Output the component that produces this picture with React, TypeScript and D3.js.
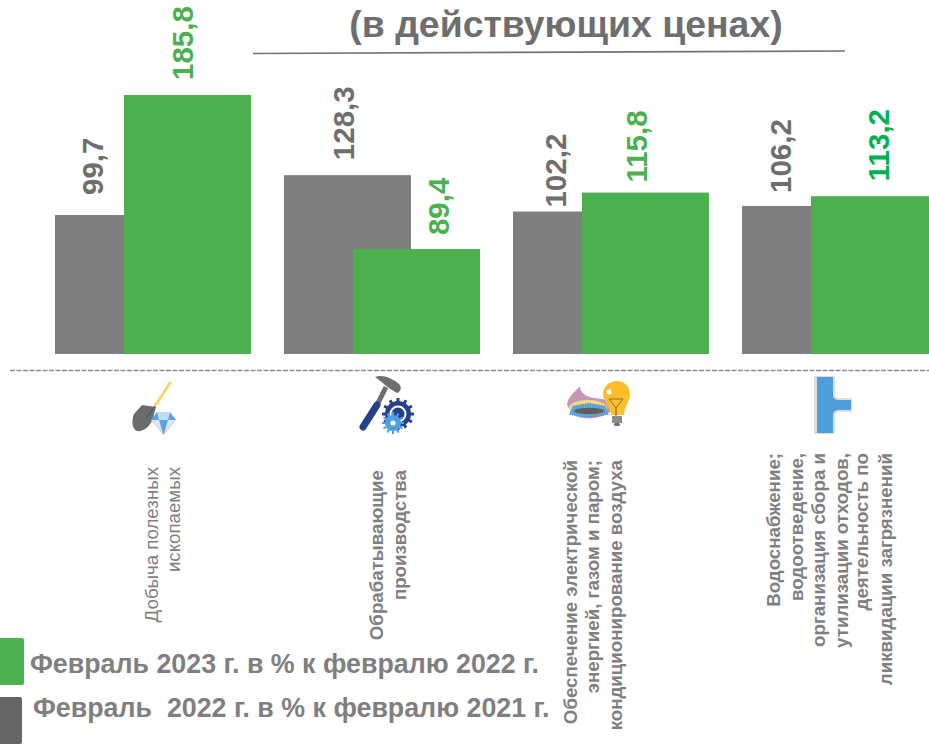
import React from "react";
import * as d3 from "d3";

const title = "(в действующих ценах)";
const categories = ["mining", "manufacturing", "energy", "water"];
const series2022 = [99.7, 128.3, 102.2, 106.2];
const series2023 = [185.8, 75.3, 115.8, 113.2];
const labels2022 = ["99,7", "128,3", "102,2", "106,2"];
const labels2023 = ["185,8", "89,4", "115,8", "113,2"];
const labelColors2023 = ["#4CAF50", "#4CAF50", "#4CAF50", "#00B050"];
const categoryLines = [
  ["Добыча полезных", "ископаемых"],
  ["Обрабатывающие", "производства"],
  ["Обеспечение электрической", "энергией, газом и паром;", "кондиционирование воздуха"],
  ["Водоснабжение;", "водоотведение,", "организация сбора и", "утилизации отходов,", "деятельность по", "ликвидации загрязнений"],
];
const legendItems = ["Февраль 2023 г. в % к февралю 2022 г.", "Февраль  2022 г. в % к февралю 2021 г."];

const GREEN = "#4CAF50";
const GRAY = "#7F7F7F";
const TEXT = "#7F7F7F";
const FONT = "'Liberation Sans', Arial, sans-serif";

const x = d3.scaleBand<string>().domain(categories).range([55, 55 + 229 * 4 - 33]).paddingInner(33 / 229).paddingOuter(0).align(0);
const y = d3.scaleLinear().domain([0, 185.8]).range([354, 95]);
const barW = 127;
const offset = 69;

// label placement relative to the bars
const dx2022 = [48, 70, 53, 49];
const gap2022 = [20, 15, 4, 13];
const dx2023 = [69, 96, 65, 78];
const gap2023 = [15, 14, 10, 15];

function ShovelIcon() {
  return (
    <g>
      <line x1={170} y1={383} x2={155} y2={406} stroke="#F8D568" strokeWidth={3} strokeLinecap="round" />
      <path d="M142 405 L156 407 L153 418 C150 428 142 432 137 431 C131 429 132 418 134 414 Z" fill="#6B6B6B" />
      <line x1={155} y1={406} x2={146} y2={418} stroke="#2F4A8F" strokeWidth={0.8} />
      <path d="M157 412 L170 412 L176 420 L163.5 435 L151 420 Z" fill="#5BA3DC" />
      <path d="M157 412 L170 412 L168 420 L159 420 Z" fill="#BFDDF2" />
      <path d="M151 420 L159 420 L163.5 435 Z" fill="#DDE3E8" />
      <path d="M176 420 L168 420 L163.5 435 Z" fill="#DDE3E8" />
    </g>
  );
}

function HammerIcon() {
  const gear = (cx: number, cy: number, r: number, teeth: number, fill: string, tw: number) => (
    <g>
      {d3.range(teeth).map((i) => {
        const a = (i * 360) / teeth;
        return <rect key={i} x={cx - tw / 2} y={cy - r - 3} width={tw} height={6} fill={fill} transform={`rotate(${a} ${cx} ${cy})`} />;
      })}
      <circle cx={cx} cy={cy} r={r} fill={fill} />
    </g>
  );
  return (
    <g>
      <path d="M375 377 C382 374 392 378 399 384 C402 387 401 392 397 393 L392 390 L385 385 C382 382 378 379 375 377 Z" fill="#6E6E6E" />
      <line x1={386} y1={387} x2={378} y2={403} stroke="#6E6E6E" strokeWidth={5} />
      <line x1={377} y1={405} x2={363} y2={427} stroke="#27408B" strokeWidth={7} strokeLinecap="round" />
      {gear(398, 414, 13, 12, "#27408B", 3)}
      <circle cx={398} cy={414} r={8.5} fill="#fff" />
      <circle cx={398} cy={414} r={6.5} fill="#27408B" />
      {gear(393, 423, 8, 12, "#4FA0DC", 2)}
      <circle cx={393} cy={423} r={2.5} fill="#fff" />
    </g>
  );
}

function EnergyIcon() {
  return (
    <g>
      <path d="M567 405 C568 396 574 393 580 386 C580 392 584 396 594 398 C602 399 606 399 610 402 L610 412 C600 420 580 420 572 414 Z" fill="#C795B8" />
      <ellipse cx={588} cy={408} rx={19} ry={8} fill="#F3DB7B" />
      {d3.range(-9, 10).map((k) => (
        <line key={k} x1={589 + k * 1.7} y1={403 + Math.abs(k) * 0.3} x2={589 + k * 2.1} y2={418 - Math.abs(k) * 0.35} stroke="#4F9FDC" strokeWidth={1.7} />
      ))}
      <ellipse cx={589} cy={411} rx={15} ry={3.2} fill="#5F5F5F" />
      <path d="M617 381 C625 381 630 387 630 394 C630 402 625 404 624 415 L611 415 C610 404 603 402 603 394 C603 387 609 381 617 381 Z" fill="#FDBE2C" />
      <path d="M609 399 L623 399 L616 408 Z" fill="none" stroke="#6B5A2A" strokeWidth={0.8} />
      <line x1={616} y1={408} x2={616} y2={416} stroke="#6B5A2A" strokeWidth={1} />
      <circle cx={609} cy={392} r={2.5} fill="#fff" />
      <rect x={612} y={416} width={10} height={7} fill="#8A8A8A" />
      <rect x={614} y={423} width={6} height={3} rx={1.5} fill="#6E6E6E" />
    </g>
  );
}

function PipeIcon() {
  return (
    <g>
      <path d="M814 376 H835 V394 C835 397 837 398 840 398 H852 V412 H840 C837 412 835 413 835 416 V434 H814 Z" fill="#DEDEDE" />
      <path d="M817 377 H833 V395 C833 399 836 400 840 400 H851 V410 H840 C836 410 833 411 833 415 V433 H817 Z" fill="#4F9FDC" />
    </g>
  );
}

export default function App() {
  return (
    <svg width={929} height={744} style={{ position: "absolute", left: 0, top: 0, background: "#fff" }} fontFamily={FONT}>
      <text x={566} y={37} textAnchor="middle" fontSize={37.4} fontWeight="bold" fill="#6E6E6E">{title}</text>
      <line x1={253} y1={53.5} x2={845} y2={51} stroke="#737373" strokeWidth={1.6} />

      {categories.map((c, i) => {
        const x0 = x(c)!;
        return (
          <g key={c}>
            <rect x={x0} y={y(series2022[i])} width={barW} height={y(0) - y(series2022[i])} fill={GRAY} />
            <rect x={x0 + offset} y={y(series2023[i])} width={barW} height={y(0) - y(series2023[i])} fill={GREEN} />
            <text transform={`translate(${x0 + dx2022[i]},${y(series2022[i]) - gap2022[i]}) rotate(-90)`} fontSize={29.5} fontWeight="bold" fill="#6E6E6E">{labels2022[i]}</text>
            <text transform={`translate(${x0 + offset + dx2023[i]},${y(series2023[i]) - gap2023[i]}) rotate(-90)`} fontSize={29.5} fontWeight="bold" fill={labelColors2023[i]}>{labels2023[i]}</text>
          </g>
        );
      })}

      <line x1={10} y1={370.5} x2={929} y2={370.5} stroke="#8C8C8C" strokeWidth={1.5} strokeDasharray="5 1.5" />

      <ShovelIcon />
      <HammerIcon />
      <EnergyIcon />
      <PipeIcon />

      {categoryLines.map((lines, i) => {
        const xs = [[158, 180], [383, 406], [577, 599, 622], [780, 803, 825, 848, 868, 892]][i];
        const tops = [467, 470, 460, 453][i];
        return lines.map((t, j) => (
          <text key={t} transform={`translate(${xs[j]},${tops}) rotate(-90)`} textAnchor="end" fontSize={18.7} fontWeight={i === 0 ? "normal" : "bold"} fill={TEXT} style={{ whiteSpace: "pre" }}>{t}</text>
        ));
      })}

      <rect x={-5} y={638} width={29} height={47} rx={2} fill={GREEN} />
      <rect x={-5} y={697} width={27} height={47} rx={2} fill="#666666" />
      <text x={30} y={673} fontSize={26.8} fontWeight="bold" fill={TEXT}>{legendItems[0]}</text>
      <text x={33} y={717} fontSize={26.8} fontWeight="bold" fill={TEXT} style={{ whiteSpace: "pre" }}>{legendItems[1]}</text>
    </svg>
  );
}
